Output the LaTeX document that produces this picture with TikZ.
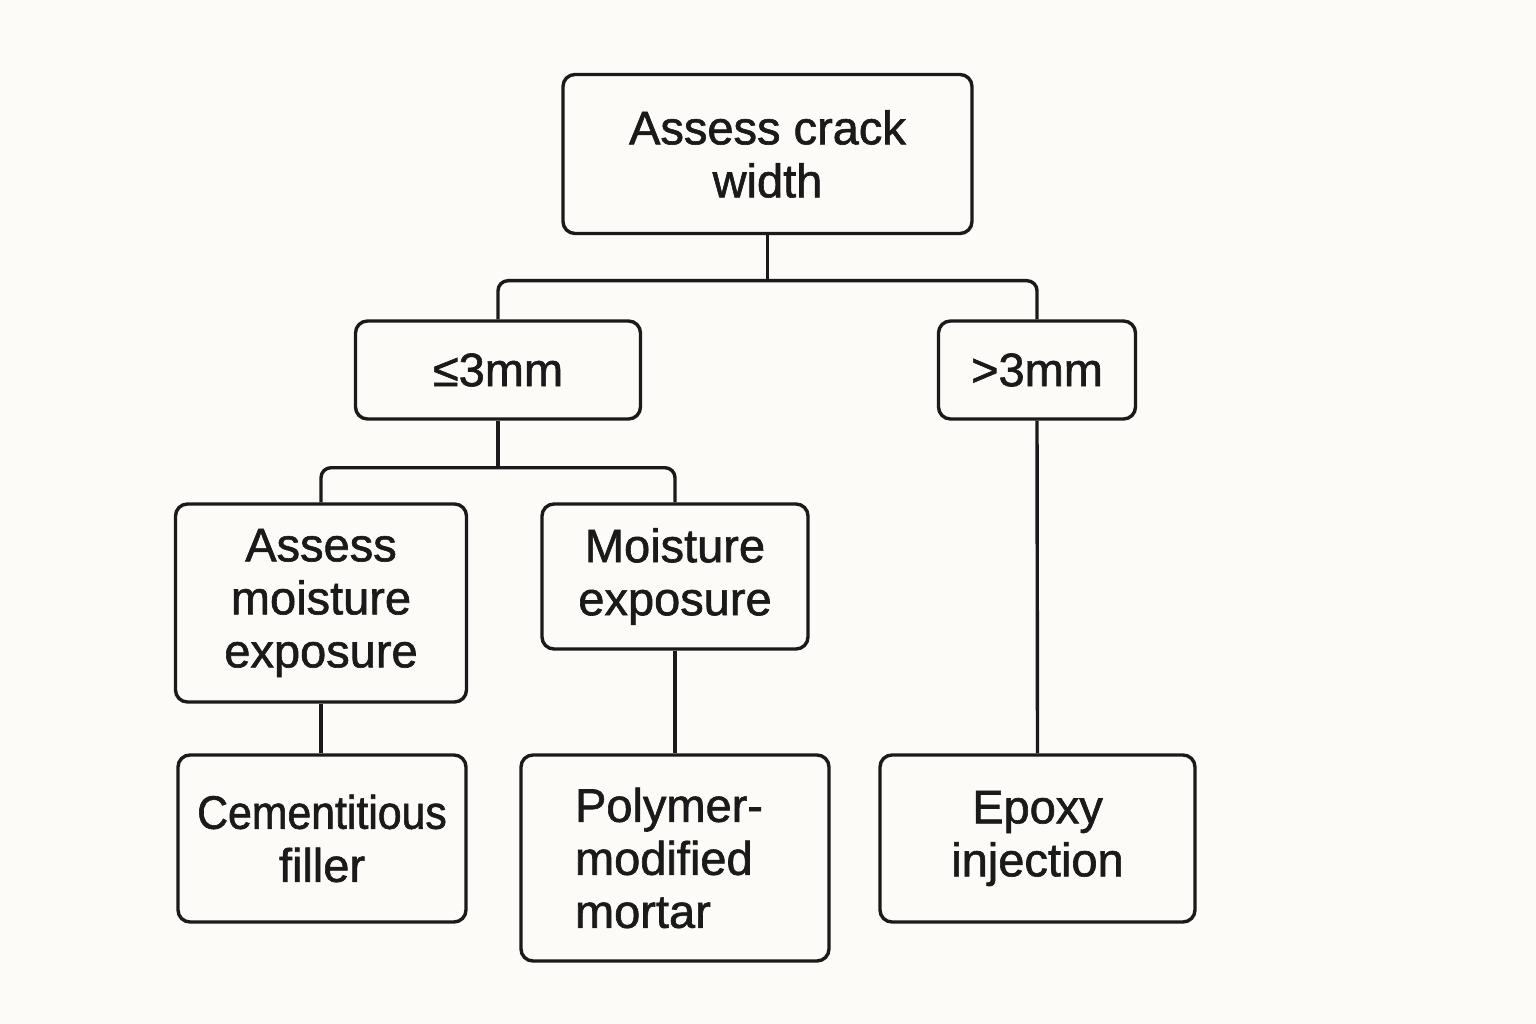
\documentclass[tikz,border=0pt]{standalone}
\usepackage{fontspec}
\setmainfont{Liberation Sans}
\newfontfamily\medfont{Liberation Sans}[FakeBold=1.3]
\newfontfamily\narrowfont{Liberation Sans}[FakeBold=1.3, FakeStretch=0.91]
\definecolor{bg}{HTML}{FCFBF8}
\definecolor{ink}{HTML}{1A1A1A}
\begin{document}
\begin{tikzpicture}[x=1pt,y=-1pt,
  box/.style={draw=ink, line width=3.4pt, rounded corners=12pt, fill=bg,
    font=\medfont\fontsize{47}{53}\selectfont, text=ink, align=center, inner sep=0pt},
  link/.style={draw=ink, line width=3.4pt, rounded corners=10pt}]
\fill[bg] (0,0) rectangle (1536,1024);
\useasboundingbox (0,0) rectangle (1536,1024);

\node[box, minimum width=409, minimum height=159] (top) at (767.5,154) {Assess crack\\width};
\node[box, minimum width=285, minimum height=98] (le) at (498,370) {≤3mm};
\node[box, minimum width=197, minimum height=98] (gt) at (1037,370) {>3mm};
\node[box, minimum width=291, minimum height=198] (am) at (321,603) {Assess\\moisture\\exposure};
\node[box, minimum width=266, minimum height=145] (me) at (675,576.5) {Moisture\\exposure};
\node[box, minimum width=288, minimum height=167] (cf) at (322,838.5) {{\narrowfont Cementitious}\\filler};
\node[box, minimum width=308, minimum height=206, text width=200, align=left] (pm) at (675,858) {Polymer-\\modified\\mortar};
\node[box, minimum width=315, minimum height=167] (ep) at (1037.5,838.5) {Epoxy\\injection};

\path (top.south) ++(0,45.5) coordinate (j1);
\path (le.south) ++(0,47) coordinate (j2);
\draw[link] (top.south) -- (j1);
\draw[link] (le.north) |- (j1) -| (gt.north);
\draw[link] (le.south) -- (j2);
\draw[link] (am.north) |- (j2) -| (me.north);
\draw[link] (gt.south) -- (ep.north);
\draw[link] (am.south) -- (am.south |- cf.north);
\draw[link] (me.south) -- (pm.north);
\end{tikzpicture}
\end{document}
